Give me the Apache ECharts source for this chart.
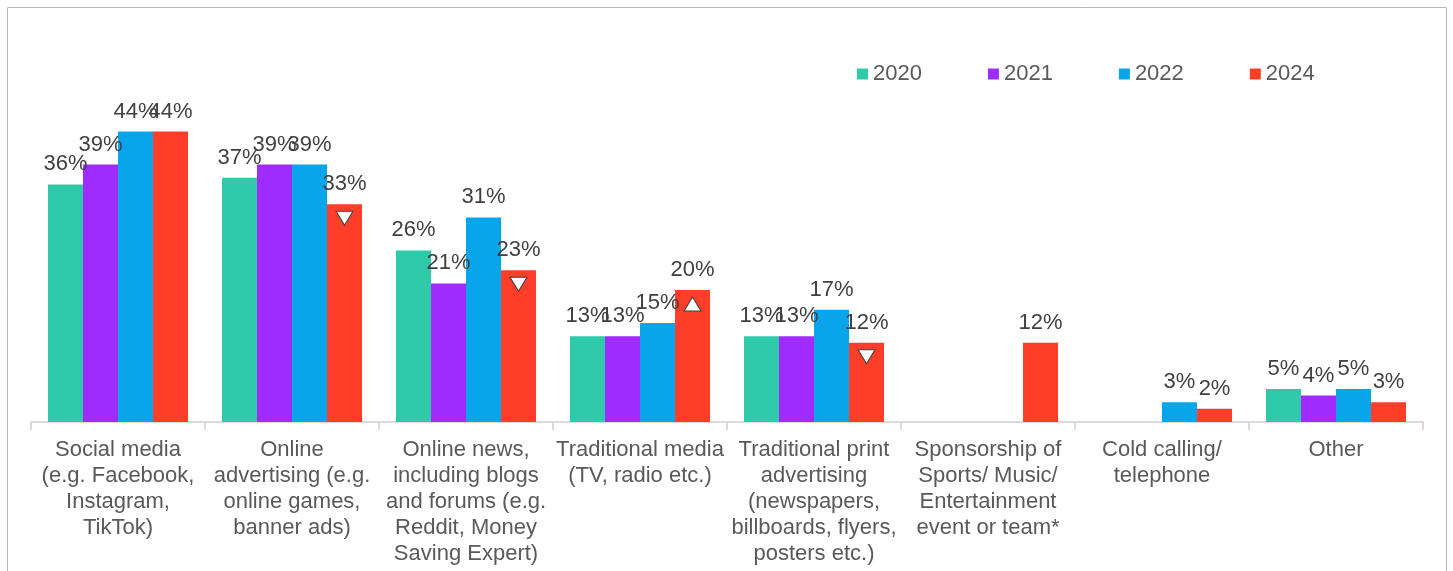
<!DOCTYPE html>
<html>
<head>
<meta charset="utf-8">
<script src="https://cdn.jsdelivr.net/npm/echarts@6/dist/echarts.min.js"></script>
<style>
  html, body { margin: 0; padding: 0; background: #fff; }
  #chart { width: 1453px; height: 571px; }
</style>
</head>
<body>
<div id="chart"></div>
<script>
// categories and values (percent)
const categories = [
  "Social media\n(e.g. Facebook,\nInstagram,\nTikTok)",
  "Online\nadvertising (e.g.\nonline games,\nbanner ads)",
  "Online news,\nincluding blogs\nand forums (e.g.\nReddit, Money\nSaving Expert)",
  "Traditional media\n(TV, radio etc.)",
  "Traditional print\nadvertising\n(newspapers,\nbillboards, flyers,\nposters etc.)",
  "Sponsorship of\nSports/ Music/\nEntertainment\nevent or team*",
  "Cold calling/\ntelephone",
  "Other"
];
const years = ["2020", "2021", "2022", "2024"];
const v2020 = [36, 37, 26, 13, 13, null, null, 5];
const v2021 = [39, 39, 21, 13, 13, null, null, 4];
const v2022 = [44, 39, 31, 15, 17, null, 3, 5];
const v2024 = [44, 33, 23, 20, 12, 12, 2, 3];
// significance markers on 2024 bars
const change2024 = ["", "down", "down", "up", "down", "", "", ""];

const colors = ["#2fcaa9", "#9f2cfd", "#08a5eb", "#ff3e2a"];
const seriesValues = [v2020, v2021, v2022, v2024];
const font = "Liberation Sans, Arial, sans-serif";

const chart = echarts.init(document.getElementById("chart"));

// triangles inside the 2024 bars
const marks = [];
change2024.forEach(function (c, i) {
  if (!c) return;
  marks.push({
    coord: [categories[i], v2024[i]],
    symbolRotate: c === "down" ? 180 : 0
  });
});

const series = years.map(function (y, k) {
  const s = {
    name: y,
    type: "bar",
    data: seriesValues[k],
    barGap: "0%",
    barCategoryGap: "19.5%",
    itemStyle: { color: colors[k] },
    label: {
      show: true,
      position: "top",
      distance: 9,
      formatter: "{c}%",
      fontFamily: font,
      fontSize: 22,
      color: "#404040"
    }
  };
  if (k === 3) {
    s.markPoint = {
      symbol: "triangle",
      symbolSize: [17, 14],
      symbolOffset: [0, 14],
      itemStyle: { color: "#fff", borderColor: "#404040", borderWidth: 1 },
      label: { show: false },
      silent: true,
      data: marks
    };
  }
  return s;
});

chart.setOption({
  animation: false,
  graphic: [{
    type: "rect",
    shape: { x: 7.5, y: 7.5, width: 1439, height: 620 },
    style: { fill: null, stroke: "#b8b8b8", lineWidth: 1 },
    silent: true
  }],
  legend: {
    data: years,
    left: 852,
    top: 58,
    itemWidth: 11,
    itemHeight: 11,
    itemGap: 66,
    icon: "rect",
    textStyle: {
      fontFamily: font,
      fontSize: 22,
      color: "#595959"
    }
  },
  grid: { left: 31, right: 30, top: 92, bottom: 149 },
  xAxis: {
    type: "category",
    data: categories,
    axisLine: { lineStyle: { color: "#d0d0d0", width: 1.5 } },
    axisTick: { show: true, length: 8, lineStyle: { color: "#d0d0d0", width: 1.5 } },
    axisLabel: {
      interval: 0,
      margin: 15,
      fontFamily: font,
      fontSize: 22,
      lineHeight: 26,
      color: "#595959"
    }
  },
  yAxis: {
    type: "value",
    min: 0,
    max: 50,
    show: false,
    splitLine: { show: false }
  },
  series: series
});
</script>
</body>
</html>
